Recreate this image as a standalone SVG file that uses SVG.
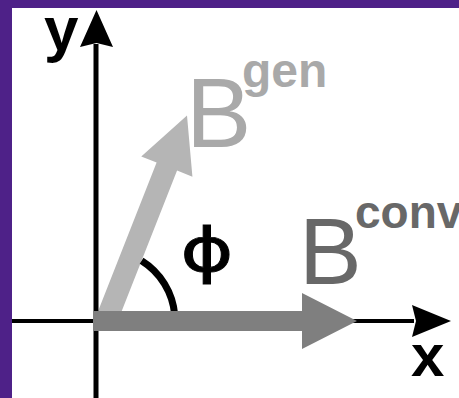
<svg xmlns="http://www.w3.org/2000/svg" width="459" height="398" viewBox="0 0 459 398">
  <style>
    .lbl { font-family: "Liberation Sans", Arial, sans-serif; }
    .axis { fill: #000; }
  </style>
  <rect id="frame" x="0" y="0" width="459" height="398" fill="#4e2188"/>
  <rect id="canvas" x="12" y="8" width="447" height="390" fill="#ffffff"/>

  <g id="vector-gen">
    <g transform="translate(106,321) rotate(-68.5)">
      <polygon points="0,-11 166,-11 166,-27.5 221,0 166,27.5 166,11 0,11" fill="#b5b5b5"/>
    </g>
  </g>

  <g id="axes">
    <rect x="93.5" y="44" width="5" height="354" class="axis"/>
    <polygon points="96.5,10 113,47 96.5,43 80,47" class="axis"/>
    <rect x="12" y="319" width="402" height="4" class="axis"/>
    <polygon points="412,305 451,321 412,337 416,321" class="axis"/>
  </g>

  <g id="angle">
    <path d="M 141.6 260.8 A 71 71 0 0 1 174.7 314.8" fill="none" stroke="#000" stroke-width="7"/>
  </g>

  <g id="vector-conv">
    <polygon points="93,311 302,311 302,293 357,321 302,349 302,331 93,331" fill="#7f7f7f"/>
  </g>

  <g id="labels">
    <text class="lbl" x="44" y="50" font-size="62" font-weight="bold" fill="#000">y</text>
    <text class="lbl" x="411" y="376" font-size="60" font-weight="bold" fill="#000">x</text>
    <text transform="translate(207,271) scale(1.35,1)" x="0" y="0" font-family="DejaVu Sans, sans-serif" font-size="60" text-anchor="middle" fill="#000" stroke="#000" stroke-width="0.8">ϕ</text>
    <text class="lbl" x="186" y="147" font-size="98" fill="#a9a9a9">B</text>
    <text class="lbl" x="242" y="87" font-size="48" font-weight="bold" fill="#a9a9a9">gen</text>
    <text class="lbl" x="299" y="284" font-size="94" fill="#686868">B</text>
    <text class="lbl" x="355" y="228" font-size="46" font-weight="bold" fill="#686868">conv</text>
  </g>
</svg>
